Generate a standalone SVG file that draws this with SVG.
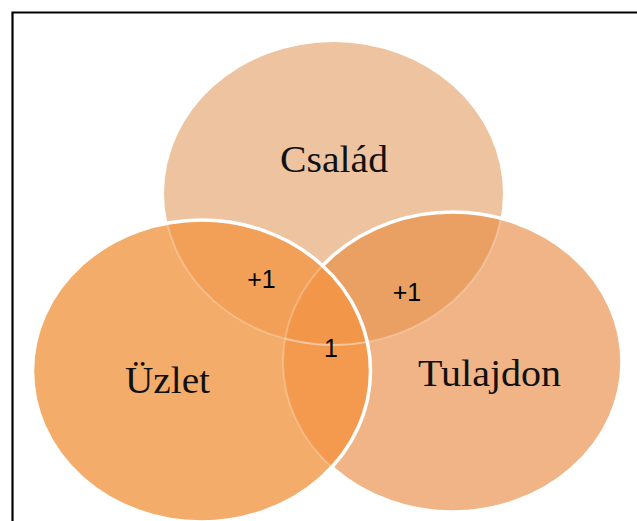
<svg xmlns="http://www.w3.org/2000/svg" width="637" height="521" viewBox="0 0 637 521">
<style>
.lbl{font-family:"Liberation Serif","Times New Roman",serif;font-size:37px;fill:#111;text-anchor:middle}
.num{font-family:"Liberation Sans",Arial,sans-serif;font-size:25px;fill:#000;text-anchor:middle}
.edge{fill:none;stroke:#fff;stroke-width:3.5}
.faint{fill:none;stroke:#fff;stroke-opacity:0.25;stroke-width:2}
</style>
<defs>
<ellipse id="eT" cx="333.5" cy="193.5" rx="169.5" ry="151.5"/>
<ellipse id="eL" cx="201.5" cy="371" rx="169" ry="151"/>
<ellipse id="eR" cx="452.5" cy="362" rx="169.5" ry="150"/>
<clipPath id="cT"><use href="#eT"/></clipPath>
<clipPath id="cR"><use href="#eR"/></clipPath>
<clipPath id="cL"><use href="#eL"/></clipPath>
</defs>
<rect width="637" height="521" fill="#fff"/>
<path d="M12.5,521 V12.5 H637" fill="none" stroke="#000" stroke-width="2.2"/>
<g id="csalad">
<use href="#eT" fill="#EDC3A0"/>
</g>
<g id="tulajdon">
<use href="#eR" fill="#F0B486"/>
<g clip-path="url(#cT)"><use href="#eR" fill="#E9A062"/></g>
<use href="#eR" class="edge"/>
</g>
<g id="uzlet">
<use href="#eL" fill="#F4AC6A"/>
<g clip-path="url(#cT)"><use href="#eL" fill="#F2A058"/></g>
<g clip-path="url(#cR)"><use href="#eL" fill="#F39A4E"/></g>
<g clip-path="url(#cR)"><g clip-path="url(#cT)"><use href="#eL" fill="#F2974A"/></g></g>
<g clip-path="url(#cL)"><use href="#eT" class="faint"/><use href="#eR" class="faint"/></g>
<g clip-path="url(#cR)"><use href="#eT" class="faint"/></g>
<use href="#eL" class="edge"/>
</g>
<g id="labels">
<text class="lbl" x="334" y="172" textLength="108" lengthAdjust="spacingAndGlyphs">Család</text>
<text class="lbl" x="167.5" y="393" textLength="85" lengthAdjust="spacingAndGlyphs">Üzlet</text>
<text class="lbl" x="489.5" y="386" textLength="143" lengthAdjust="spacingAndGlyphs">Tulajdon</text>
<text class="num" x="261.5" y="288">+1</text>
<text class="num" x="407" y="301">+1</text>
<text class="num" x="331" y="357">1</text>
</g>
</svg>
